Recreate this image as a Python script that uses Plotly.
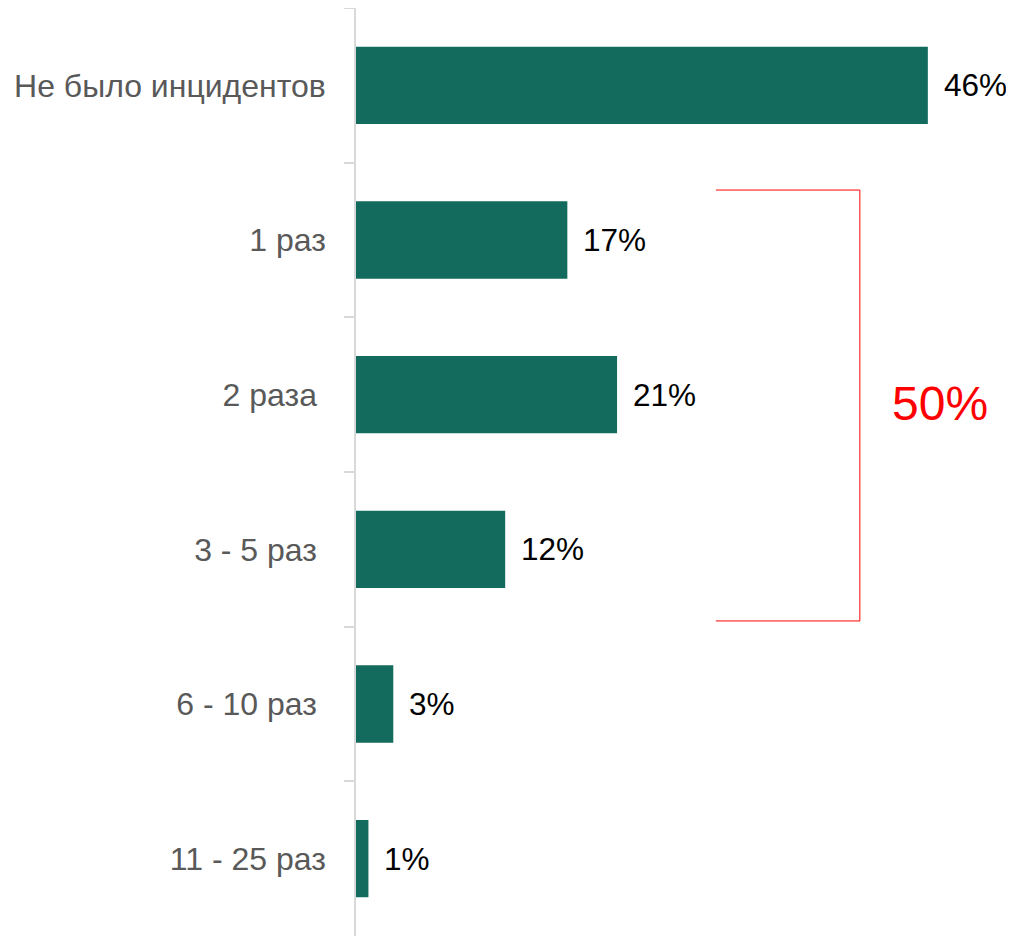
import plotly.graph_objects as go

categories = ["Не было инцидентов", "1 раз", "2 раза\u00a0", "3 - 5 раз\u00a0", "6 - 10 раз\u00a0", "11 - 25 раз"]
values = [46, 17, 21, 12, 3, 1]
value_labels = ["46%", "17%", "21%", "12%", "3%", "1%"]
bracket_label = "50%"

FONT = "Liberation Sans, Arial, sans-serif"
BAR = "#136B5E"

fig = go.Figure()
fig.add_trace(go.Bar(
    x=values, y=categories, orientation="h",
    marker=dict(color=BAR, line=dict(width=0)),
    width=0.5, hoverinfo="skip",
))

for c, v, t in zip(categories, values, value_labels):
    fig.add_annotation(x=v, y=c, text=t, xref="x", yref="y",
                       xanchor="left", yanchor="middle", xshift=14, showarrow=False,
                       font=dict(family=FONT, size=31.5, color="#000000"))

# bracket around 1..3-5 times
x0, x1 = 28.95, 40.53
y0, y1 = 0.677, 3.463
red = "#FF0000"
fig.add_shape(type="line", x0=x0, x1=x1, y0=y0, y1=y0, xref="x", yref="y", line=dict(color=red, width=1))
fig.add_shape(type="line", x0=x1, x1=x1, y0=y0, y1=y1, xref="x", yref="y", line=dict(color=red, width=1))
fig.add_shape(type="line", x0=x0, x1=x1, y0=y1, y1=y1, xref="x", yref="y", line=dict(color=red, width=1))
fig.add_annotation(x=46.96, y=2.054, xref="x", yref="y", text=bracket_label, showarrow=False,
                   xanchor="center", yanchor="middle",
                   font=dict(family=FONT, size=48, color=red))

fig.update_layout(
    width=1006, height=928,
    margin=dict(l=348, r=0, t=0, b=0),
    paper_bgcolor="white", plot_bgcolor="white",
    showlegend=False,
    xaxis=dict(range=[0, 52.93], visible=False, showgrid=False, zeroline=False),
    yaxis=dict(
        type="category", categoryorder="array", categoryarray=categories,
        range=[5.5, -0.5], autorange=False,
        showline=True, linecolor="#D9D9D9", linewidth=1.5,
        ticks="outside", tickson="boundaries", ticklen=10, tickcolor="#D9D9D9", tickwidth=1.5,
        ticklabelstandoff=22,
        tickfont=dict(family=FONT, size=32, color="#595959"),
        showgrid=False, zeroline=False,
    ),
    font=dict(family=FONT),
)

fig.write_html("out.html")
